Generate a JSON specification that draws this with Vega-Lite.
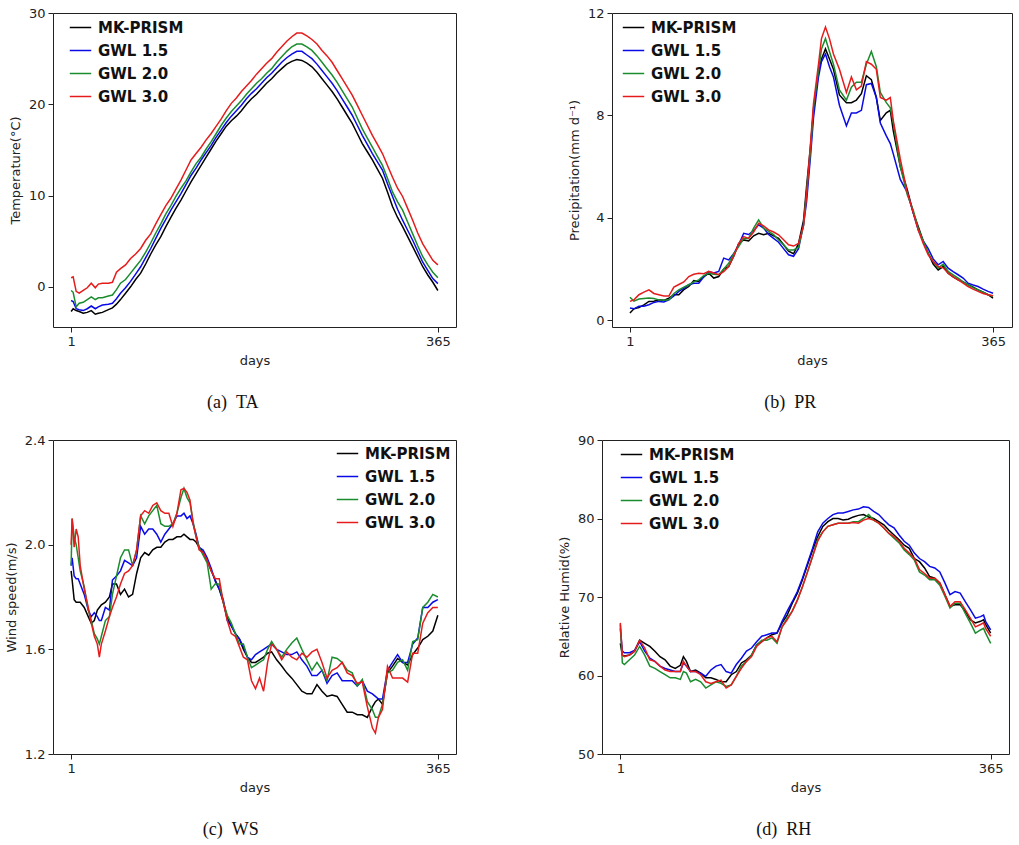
{
"$schema": "https://vega.github.io/schema/vega-lite/v6.json",
"background": "white",
"padding": {"left": 4, "top": 6, "right": 5, "bottom": 5},
"datasets": {
"ta": [
{"d":1,"m":-2.7,"a":-1.5,"b":-0.4,"c":1.0},
{"d":3,"m":-2.4,"a":-1.6,"b":-0.6,"c":1.1},
{"d":6,"m":-2.6,"a":-2.4,"b":-2.2,"c":-0.5},
{"d":9,"m":-2.7,"a":-2.5,"b":-1.8,"c":-0.7},
{"d":13,"m":-2.9,"a":-2.6,"b":-1.7,"c":-0.4},
{"d":17,"m":-2.8,"a":-2.4,"b":-1.4,"c":-0.1},
{"d":21,"m":-2.6,"a":-2.1,"b":-1.1,"c":0.4},
{"d":25,"m":-3.0,"a":-2.4,"b":-1.4,"c":-0.1},
{"d":28,"m":-2.9,"a":-2.2,"b":-1.2,"c":0.3},
{"d":32,"m":-2.8,"a":-2.0,"b":-1.2,"c":0.4},
{"d":38,"m":-2.5,"a":-1.9,"b":-1.0,"c":0.4},
{"d":42,"m":-2.3,"a":-1.8,"b":-0.9,"c":0.5},
{"d":46,"m":-1.9,"a":-1.3,"b":-0.3,"c":1.6},
{"d":50,"m":-1.4,"a":-0.7,"b":0.4,"c":2.0},
{"d":55,"m":-0.7,"a":-0.1,"b":0.8,"c":2.4},
{"d":60,"m":0.0,"a":0.6,"b":1.5,"c":3.1},
{"d":65,"m":0.8,"a":1.4,"b":2.2,"c":3.6},
{"d":70,"m":1.5,"a":2.2,"b":2.9,"c":4.2},
{"d":75,"m":2.5,"a":3.2,"b":3.8,"c":5.1},
{"d":80,"m":3.6,"a":4.2,"b":4.8,"c":5.8},
{"d":85,"m":4.6,"a":5.3,"b":5.9,"c":6.9},
{"d":90,"m":5.5,"a":6.4,"b":6.9,"c":7.9},
{"d":95,"m":6.6,"a":7.4,"b":8.0,"c":8.9},
{"d":100,"m":7.6,"a":8.4,"b":8.9,"c":9.7},
{"d":105,"m":8.6,"a":9.3,"b":9.9,"c":10.7},
{"d":110,"m":9.5,"a":10.2,"b":10.8,"c":11.7},
{"d":115,"m":10.5,"a":11.2,"b":11.6,"c":12.8},
{"d":120,"m":11.5,"a":12.2,"b":12.6,"c":13.9},
{"d":125,"m":12.4,"a":13.0,"b":13.5,"c":14.6},
{"d":130,"m":13.3,"a":13.9,"b":14.2,"c":15.3},
{"d":135,"m":14.2,"a":14.7,"b":15.1,"c":16.1},
{"d":140,"m":15.1,"a":15.5,"b":15.9,"c":16.8},
{"d":145,"m":16.0,"a":16.4,"b":16.8,"c":17.6},
{"d":150,"m":16.8,"a":17.2,"b":17.7,"c":18.4},
{"d":155,"m":17.6,"a":18.0,"b":18.5,"c":19.3},
{"d":160,"m":18.2,"a":18.7,"b":19.2,"c":20.1},
{"d":165,"m":18.7,"a":19.3,"b":19.8,"c":20.7},
{"d":170,"m":19.3,"a":19.9,"b":20.4,"c":21.4},
{"d":175,"m":20.0,"a":20.6,"b":21.1,"c":22.0},
{"d":180,"m":20.6,"a":21.2,"b":21.7,"c":22.6},
{"d":185,"m":21.1,"a":21.7,"b":22.3,"c":23.3},
{"d":190,"m":21.7,"a":22.3,"b":22.8,"c":23.9},
{"d":195,"m":22.3,"a":22.9,"b":23.4,"c":24.5},
{"d":200,"m":22.8,"a":23.4,"b":23.9,"c":25.0},
{"d":205,"m":23.4,"a":24.0,"b":24.6,"c":25.7},
{"d":210,"m":23.9,"a":24.6,"b":25.2,"c":26.3},
{"d":215,"m":24.4,"a":25.1,"b":25.8,"c":26.9},
{"d":220,"m":24.7,"a":25.5,"b":26.3,"c":27.4},
{"d":225,"m":24.9,"a":25.8,"b":26.6,"c":27.8},
{"d":230,"m":24.8,"a":25.8,"b":26.6,"c":27.8},
{"d":235,"m":24.5,"a":25.4,"b":26.3,"c":27.5},
{"d":240,"m":24.1,"a":25.0,"b":25.9,"c":27.1},
{"d":245,"m":23.5,"a":24.4,"b":25.3,"c":26.6},
{"d":250,"m":22.8,"a":23.7,"b":24.6,"c":25.9},
{"d":255,"m":22.1,"a":23.0,"b":23.9,"c":25.3},
{"d":260,"m":21.4,"a":22.3,"b":23.2,"c":24.6},
{"d":265,"m":20.6,"a":21.5,"b":22.4,"c":23.7},
{"d":270,"m":19.7,"a":20.6,"b":21.5,"c":22.8},
{"d":275,"m":18.8,"a":19.7,"b":20.6,"c":21.9},
{"d":280,"m":17.9,"a":18.8,"b":19.7,"c":21.0},
{"d":285,"m":16.8,"a":17.7,"b":18.5,"c":19.9},
{"d":290,"m":15.7,"a":16.6,"b":17.3,"c":18.8},
{"d":295,"m":14.8,"a":15.6,"b":16.3,"c":17.7},
{"d":300,"m":13.9,"a":14.6,"b":15.3,"c":16.6},
{"d":305,"m":12.9,"a":13.7,"b":14.3,"c":15.6},
{"d":310,"m":11.9,"a":12.8,"b":13.3,"c":14.6},
{"d":315,"m":10.4,"a":11.3,"b":11.9,"c":13.3},
{"d":320,"m":8.8,"a":9.9,"b":10.4,"c":12.0},
{"d":325,"m":7.6,"a":8.5,"b":9.3,"c":10.8},
{"d":330,"m":6.6,"a":7.3,"b":8.4,"c":9.9},
{"d":335,"m":5.5,"a":6.2,"b":7.1,"c":8.6},
{"d":340,"m":4.4,"a":5.1,"b":5.8,"c":7.3},
{"d":345,"m":3.3,"a":3.9,"b":4.5,"c":5.9},
{"d":350,"m":2.2,"a":2.7,"b":3.3,"c":4.7},
{"d":355,"m":1.3,"a":1.8,"b":2.4,"c":3.8},
{"d":360,"m":0.5,"a":0.9,"b":1.6,"c":2.9},
{"d":365,"m":-0.4,"a":0.35,"b":1.0,"c":2.4}
],
"pr": [
{"d":1,"m":0.29,"a":0.48,"b":0.9,"c":0.74},
{"d":5,"m":0.45,"a":0.45,"b":0.75,"c":0.8},
{"d":10,"m":0.5,"a":0.55,"b":0.83,"c":1.0},
{"d":15,"m":0.6,"a":0.55,"b":0.85,"c":1.1},
{"d":20,"m":0.74,"a":0.61,"b":0.87,"c":1.19},
{"d":25,"m":0.75,"a":0.7,"b":0.85,"c":1.05},
{"d":30,"m":0.8,"a":0.74,"b":0.8,"c":1.0},
{"d":35,"m":0.78,"a":0.72,"b":0.78,"c":0.95},
{"d":40,"m":0.87,"a":0.8,"b":0.8,"c":0.95},
{"d":45,"m":1.0,"a":0.95,"b":1.05,"c":1.3},
{"d":50,"m":1.0,"a":1.13,"b":1.19,"c":1.4},
{"d":55,"m":1.2,"a":1.25,"b":1.3,"c":1.5},
{"d":60,"m":1.32,"a":1.39,"b":1.39,"c":1.71},
{"d":65,"m":1.55,"a":1.45,"b":1.5,"c":1.8},
{"d":70,"m":1.52,"a":1.45,"b":1.58,"c":1.84},
{"d":75,"m":1.7,"a":1.7,"b":1.75,"c":1.82},
{"d":80,"m":1.84,"a":1.9,"b":1.84,"c":1.91},
{"d":85,"m":1.65,"a":1.85,"b":1.8,"c":1.85},
{"d":90,"m":1.71,"a":1.91,"b":1.78,"c":1.78},
{"d":95,"m":2.0,"a":2.43,"b":2.0,"c":1.9},
{"d":100,"m":2.1,"a":2.36,"b":2.23,"c":2.1},
{"d":105,"m":2.5,"a":2.6,"b":2.6,"c":2.5},
{"d":110,"m":3.0,"a":2.95,"b":2.88,"c":3.0},
{"d":115,"m":3.14,"a":3.4,"b":3.2,"c":3.27},
{"d":120,"m":3.1,"a":3.35,"b":3.2,"c":3.2},
{"d":125,"m":3.3,"a":3.5,"b":3.6,"c":3.45},
{"d":130,"m":3.4,"a":3.73,"b":3.92,"c":3.79},
{"d":135,"m":3.34,"a":3.6,"b":3.6,"c":3.69},
{"d":140,"m":3.4,"a":3.35,"b":3.47,"c":3.53},
{"d":145,"m":3.3,"a":3.2,"b":3.35,"c":3.45},
{"d":150,"m":3.2,"a":3.05,"b":3.14,"c":3.34},
{"d":155,"m":2.95,"a":2.8,"b":2.95,"c":3.15},
{"d":160,"m":2.7,"a":2.56,"b":2.75,"c":2.95},
{"d":165,"m":2.6,"a":2.5,"b":2.75,"c":2.9},
{"d":170,"m":3.0,"a":2.8,"b":2.85,"c":3.0},
{"d":175,"m":3.9,"a":3.75,"b":3.7,"c":3.7},
{"d":178,"m":5.2,"a":4.6,"b":5.0,"c":4.85},
{"d":182,"m":6.8,"a":6.4,"b":6.6,"c":6.9},
{"d":185,"m":8.2,"a":7.9,"b":8.3,"c":8.45},
{"d":190,"m":9.7,"a":9.5,"b":9.75,"c":10.0},
{"d":193,"m":10.2,"a":10.1,"b":10.6,"c":11.0},
{"d":197,"m":10.6,"a":10.4,"b":11.0,"c":11.45},
{"d":201,"m":10.2,"a":9.9,"b":10.5,"c":11.0},
{"d":205,"m":9.8,"a":9.5,"b":10.0,"c":10.4},
{"d":211,"m":8.8,"a":8.4,"b":9.0,"c":9.8},
{"d":218,"m":8.5,"a":7.6,"b":8.6,"c":8.9},
{"d":223,"m":8.5,"a":8.1,"b":9.1,"c":9.5},
{"d":228,"m":8.6,"a":8.1,"b":9.3,"c":9.0},
{"d":233,"m":8.85,"a":8.2,"b":9.3,"c":9.15},
{"d":238,"m":9.55,"a":9.2,"b":10.0,"c":10.1},
{"d":243,"m":9.4,"a":9.25,"b":10.5,"c":10.0},
{"d":248,"m":8.7,"a":8.7,"b":9.9,"c":9.8},
{"d":252,"m":7.8,"a":7.7,"b":8.9,"c":8.7},
{"d":258,"m":8.1,"a":7.2,"b":8.5,"c":8.6},
{"d":262,"m":8.2,"a":6.9,"b":8.3,"c":8.7},
{"d":265,"m":7.4,"a":6.5,"b":7.7,"c":7.8},
{"d":272,"m":6.0,"a":5.5,"b":6.0,"c":6.3},
{"d":279,"m":5.1,"a":5.0,"b":4.9,"c":5.0},
{"d":285,"m":4.2,"a":4.2,"b":4.3,"c":4.2},
{"d":290,"m":3.66,"a":3.53,"b":3.6,"c":3.53},
{"d":295,"m":3.1,"a":3.1,"b":3.1,"c":3.0},
{"d":300,"m":2.62,"a":2.8,"b":2.62,"c":2.56},
{"d":305,"m":2.2,"a":2.4,"b":2.3,"c":2.3},
{"d":310,"m":1.97,"a":2.17,"b":2.04,"c":2.1},
{"d":315,"m":2.1,"a":2.3,"b":2.2,"c":2.05},
{"d":320,"m":1.84,"a":2.04,"b":1.91,"c":1.84},
{"d":325,"m":1.7,"a":1.9,"b":1.78,"c":1.7},
{"d":330,"m":1.58,"a":1.78,"b":1.65,"c":1.58},
{"d":335,"m":1.5,"a":1.65,"b":1.5,"c":1.45},
{"d":340,"m":1.39,"a":1.45,"b":1.39,"c":1.32},
{"d":345,"m":1.3,"a":1.38,"b":1.28,"c":1.22},
{"d":350,"m":1.19,"a":1.32,"b":1.19,"c":1.13},
{"d":355,"m":1.1,"a":1.22,"b":1.1,"c":1.05},
{"d":360,"m":1.0,"a":1.13,"b":1.0,"c":1.0},
{"d":365,"m":0.87,"a":1.06,"b":0.94,"c":0.96}
],
"ws": [
{"d":1,"m":1.9,"a":1.92,"b":1.92,"c":2.0},
{"d":2,"m":1.865,"a":1.95,"b":2.1,"c":2.1},
{"d":4,"m":1.79,"a":1.88,"b":2.03,"c":1.99},
{"d":6,"m":1.78,"a":1.87,"b":2.0,"c":2.06},
{"d":8,"m":1.78,"a":1.87,"b":1.95,"c":2.03},
{"d":10,"m":1.78,"a":1.85,"b":1.9,"c":1.92},
{"d":14,"m":1.76,"a":1.81,"b":1.84,"c":1.83},
{"d":18,"m":1.725,"a":1.75,"b":1.75,"c":1.76},
{"d":21,"m":1.7,"a":1.725,"b":1.71,"c":1.7},
{"d":24,"m":1.71,"a":1.74,"b":1.66,"c":1.65},
{"d":27,"m":1.75,"a":1.725,"b":1.64,"c":1.62},
{"d":29,"m":1.76,"a":1.71,"b":1.62,"c":1.57},
{"d":31,"m":1.77,"a":1.71,"b":1.65,"c":1.62},
{"d":35,"m":1.78,"a":1.76,"b":1.71,"c":1.67},
{"d":39,"m":1.8,"a":1.75,"b":1.725,"c":1.725},
{"d":42,"m":1.85,"a":1.865,"b":1.81,"c":1.76},
{"d":46,"m":1.85,"a":1.88,"b":1.88,"c":1.8},
{"d":50,"m":1.81,"a":1.9,"b":1.95,"c":1.85},
{"d":54,"m":1.83,"a":1.94,"b":1.98,"c":1.89},
{"d":58,"m":1.8,"a":1.93,"b":1.98,"c":1.9},
{"d":62,"m":1.81,"a":1.92,"b":1.92,"c":1.92},
{"d":66,"m":1.89,"a":1.95,"b":1.98,"c":1.98},
{"d":70,"m":1.95,"a":2.07,"b":2.11,"c":2.11},
{"d":74,"m":1.97,"a":2.04,"b":2.08,"c":2.13},
{"d":78,"m":1.96,"a":2.06,"b":2.11,"c":2.12},
{"d":82,"m":1.98,"a":2.06,"b":2.13,"c":2.15},
{"d":86,"m":1.99,"a":2.04,"b":2.15,"c":2.16},
{"d":90,"m":1.99,"a":2.01,"b":2.08,"c":2.13},
{"d":94,"m":2.01,"a":2.04,"b":2.07,"c":2.12},
{"d":98,"m":2.02,"a":2.06,"b":2.07,"c":2.12},
{"d":102,"m":2.02,"a":2.08,"b":2.08,"c":2.07},
{"d":106,"m":2.03,"a":2.11,"b":2.12,"c":2.12},
{"d":110,"m":2.03,"a":2.11,"b":2.18,"c":2.21},
{"d":113,"m":2.04,"a":2.12,"b":2.215,"c":2.215},
{"d":116,"m":2.03,"a":2.1,"b":2.18,"c":2.2},
{"d":119,"m":2.02,"a":2.11,"b":2.16,"c":2.17},
{"d":122,"m":2.02,"a":2.08,"b":2.09,"c":2.08},
{"d":125,"m":2.01,"a":2.04,"b":2.03,"c":2.03},
{"d":128,"m":1.99,"a":1.99,"b":1.99,"c":1.98},
{"d":132,"m":1.97,"a":1.98,"b":1.96,"c":1.97},
{"d":136,"m":1.94,"a":1.95,"b":1.93,"c":1.94},
{"d":140,"m":1.9,"a":1.91,"b":1.83,"c":1.9},
{"d":144,"m":1.865,"a":1.86,"b":1.85,"c":1.87},
{"d":148,"m":1.83,"a":1.83,"b":1.85,"c":1.87},
{"d":152,"m":1.78,"a":1.79,"b":1.78,"c":1.78},
{"d":156,"m":1.72,"a":1.71,"b":1.73,"c":1.71},
{"d":160,"m":1.69,"a":1.69,"b":1.7,"c":1.66},
{"d":164,"m":1.66,"a":1.66,"b":1.66,"c":1.65},
{"d":168,"m":1.64,"a":1.64,"b":1.62,"c":1.61},
{"d":172,"m":1.6,"a":1.61,"b":1.62,"c":1.57},
{"d":176,"m":1.57,"a":1.57,"b":1.57,"c":1.56},
{"d":180,"m":1.55,"a":1.56,"b":1.53,"c":1.48},
{"d":184,"m":1.55,"a":1.58,"b":1.54,"c":1.45},
{"d":188,"m":1.56,"a":1.59,"b":1.55,"c":1.49},
{"d":192,"m":1.57,"a":1.6,"b":1.56,"c":1.44},
{"d":196,"m":1.585,"a":1.61,"b":1.6,"c":1.55},
{"d":200,"m":1.59,"a":1.62,"b":1.63,"c":1.62},
{"d":205,"m":1.56,"a":1.6,"b":1.6,"c":1.6},
{"d":210,"m":1.536,"a":1.59,"b":1.57,"c":1.56},
{"d":215,"m":1.51,"a":1.58,"b":1.6,"c":1.59},
{"d":220,"m":1.49,"a":1.58,"b":1.624,"c":1.57},
{"d":225,"m":1.465,"a":1.59,"b":1.643,"c":1.56},
{"d":230,"m":1.44,"a":1.56,"b":1.6,"c":1.585},
{"d":235,"m":1.43,"a":1.536,"b":1.56,"c":1.57},
{"d":240,"m":1.43,"a":1.5,"b":1.52,"c":1.59},
{"d":245,"m":1.465,"a":1.5,"b":1.55,"c":1.6},
{"d":250,"m":1.44,"a":1.52,"b":1.52,"c":1.55},
{"d":255,"m":1.42,"a":1.47,"b":1.48,"c":1.49},
{"d":260,"m":1.425,"a":1.5,"b":1.57,"c":1.52},
{"d":265,"m":1.42,"a":1.51,"b":1.565,"c":1.53},
{"d":270,"m":1.39,"a":1.48,"b":1.55,"c":1.55},
{"d":275,"m":1.36,"a":1.48,"b":1.52,"c":1.51},
{"d":280,"m":1.36,"a":1.48,"b":1.51,"c":1.5},
{"d":285,"m":1.35,"a":1.46,"b":1.46,"c":1.47},
{"d":290,"m":1.35,"a":1.48,"b":1.485,"c":1.475},
{"d":295,"m":1.34,"a":1.44,"b":1.4,"c":1.38},
{"d":300,"m":1.38,"a":1.43,"b":1.37,"c":1.3},
{"d":303,"m":1.4,"a":1.42,"b":1.34,"c":1.28},
{"d":306,"m":1.41,"a":1.41,"b":1.34,"c":1.34},
{"d":310,"m":1.39,"a":1.41,"b":1.39,"c":1.37},
{"d":315,"m":1.51,"a":1.52,"b":1.51,"c":1.535},
{"d":320,"m":1.536,"a":1.55,"b":1.52,"c":1.49},
{"d":325,"m":1.565,"a":1.58,"b":1.55,"c":1.49},
{"d":330,"m":1.55,"a":1.55,"b":1.56,"c":1.49},
{"d":335,"m":1.54,"a":1.55,"b":1.52,"c":1.475},
{"d":340,"m":1.58,"a":1.62,"b":1.63,"c":1.585},
{"d":345,"m":1.605,"a":1.643,"b":1.637,"c":1.585},
{"d":350,"m":1.637,"a":1.76,"b":1.76,"c":1.7},
{"d":355,"m":1.65,"a":1.76,"b":1.78,"c":1.74},
{"d":360,"m":1.67,"a":1.78,"b":1.81,"c":1.76},
{"d":365,"m":1.73,"a":1.79,"b":1.8,"c":1.76}
],
"rh": [
{"d":1,"m":64.1,"a":66.0,"b":66.5,"c":66.7},
{"d":3,"m":62.6,"a":63.1,"b":61.6,"c":62.6},
{"d":5,"m":62.5,"a":62.9,"b":61.4,"c":62.4},
{"d":10,"m":62.6,"a":62.9,"b":62.0,"c":62.6},
{"d":15,"m":63.1,"a":63.2,"b":62.6,"c":63.1},
{"d":20,"m":64.5,"a":64.3,"b":63.7,"c":64.5},
{"d":25,"m":64.1,"a":63.1,"b":62.6,"c":63.5},
{"d":30,"m":63.7,"a":62.2,"b":61.2,"c":62.0},
{"d":35,"m":63.1,"a":61.8,"b":60.9,"c":61.8},
{"d":40,"m":62.4,"a":61.2,"b":60.5,"c":61.2},
{"d":45,"m":62.0,"a":60.9,"b":60.1,"c":60.7},
{"d":50,"m":61.2,"a":60.7,"b":59.7,"c":60.5},
{"d":55,"m":60.9,"a":60.5,"b":59.7,"c":60.5},
{"d":60,"m":61.3,"a":60.5,"b":59.5,"c":60.5},
{"d":63,"m":62.4,"a":61.6,"b":60.5,"c":61.8},
{"d":66,"m":61.8,"a":61.2,"b":60.3,"c":61.2},
{"d":70,"m":60.5,"a":60.5,"b":59.2,"c":60.5},
{"d":75,"m":60.7,"a":60.5,"b":59.5,"c":60.5},
{"d":80,"m":60.3,"a":60.3,"b":59.2,"c":60.1},
{"d":85,"m":59.7,"a":59.9,"b":58.4,"c":59.2},
{"d":90,"m":59.7,"a":60.7,"b":58.8,"c":59.0},
{"d":95,"m":59.5,"a":61.2,"b":59.2,"c":59.2},
{"d":100,"m":59.2,"a":61.4,"b":59.0,"c":59.4},
{"d":105,"m":59.2,"a":60.5,"b":58.6,"c":58.4},
{"d":110,"m":60.1,"a":60.3,"b":58.8,"c":58.8},
{"d":115,"m":60.5,"a":61.4,"b":59.9,"c":59.9},
{"d":120,"m":61.6,"a":62.2,"b":61.2,"c":60.9},
{"d":125,"m":62.0,"a":63.1,"b":61.8,"c":61.8},
{"d":130,"m":62.6,"a":63.5,"b":62.6,"c":62.4},
{"d":135,"m":63.9,"a":64.3,"b":63.9,"c":63.7},
{"d":140,"m":64.3,"a":65.0,"b":64.5,"c":64.3},
{"d":145,"m":64.8,"a":65.2,"b":64.5,"c":64.8},
{"d":150,"m":65.2,"a":65.4,"b":64.8,"c":65.0},
{"d":155,"m":65.4,"a":65.4,"b":64.1,"c":64.3},
{"d":160,"m":66.7,"a":66.9,"b":66.2,"c":66.2},
{"d":165,"m":67.7,"a":68.2,"b":67.3,"c":67.1},
{"d":170,"m":69.2,"a":69.4,"b":68.2,"c":68.2},
{"d":175,"m":70.5,"a":70.7,"b":69.6,"c":69.6},
{"d":180,"m":72.2,"a":72.4,"b":71.3,"c":71.3},
{"d":185,"m":74.1,"a":74.3,"b":73.2,"c":73.2},
{"d":190,"m":76.0,"a":76.2,"b":75.2,"c":75.2},
{"d":195,"m":77.7,"a":78.3,"b":77.3,"c":77.1},
{"d":200,"m":79.0,"a":79.4,"b":78.3,"c":78.3},
{"d":205,"m":79.6,"a":80.0,"b":79.0,"c":79.0},
{"d":210,"m":80.0,"a":80.5,"b":79.2,"c":79.2},
{"d":215,"m":80.0,"a":80.7,"b":79.4,"c":79.4},
{"d":220,"m":79.8,"a":80.7,"b":79.4,"c":79.4},
{"d":225,"m":79.9,"a":80.9,"b":79.4,"c":79.4},
{"d":230,"m":80.2,"a":81.1,"b":79.6,"c":79.5},
{"d":235,"m":80.4,"a":81.2,"b":79.6,"c":79.4},
{"d":240,"m":80.5,"a":81.5,"b":80.0,"c":79.8},
{"d":245,"m":80.2,"a":81.4,"b":80.5,"c":80.0},
{"d":250,"m":80.0,"a":80.9,"b":79.8,"c":79.8},
{"d":255,"m":79.6,"a":80.5,"b":79.4,"c":79.4},
{"d":260,"m":79.2,"a":79.8,"b":78.8,"c":78.8},
{"d":265,"m":78.5,"a":79.2,"b":78.1,"c":78.1},
{"d":270,"m":77.9,"a":78.8,"b":77.5,"c":77.7},
{"d":275,"m":77.3,"a":77.9,"b":76.9,"c":77.1},
{"d":280,"m":76.6,"a":77.1,"b":76.0,"c":76.2},
{"d":285,"m":76.2,"a":76.6,"b":75.4,"c":75.6},
{"d":290,"m":74.9,"a":75.6,"b":74.7,"c":74.9},
{"d":295,"m":74.5,"a":74.9,"b":73.2,"c":73.5},
{"d":300,"m":73.7,"a":74.5,"b":72.8,"c":73.0},
{"d":305,"m":72.6,"a":73.9,"b":72.2,"c":72.4},
{"d":310,"m":72.4,"a":73.7,"b":72.2,"c":72.4},
{"d":315,"m":71.8,"a":73.2,"b":71.5,"c":71.8},
{"d":320,"m":70.3,"a":71.8,"b":70.1,"c":70.3},
{"d":325,"m":68.8,"a":70.3,"b":68.6,"c":68.8},
{"d":330,"m":69.0,"a":70.7,"b":69.2,"c":69.4},
{"d":335,"m":69.0,"a":70.5,"b":69.2,"c":69.4},
{"d":340,"m":68.2,"a":69.4,"b":67.9,"c":68.4},
{"d":345,"m":67.1,"a":68.4,"b":66.7,"c":67.3},
{"d":350,"m":66.7,"a":67.3,"b":65.4,"c":66.2},
{"d":355,"m":66.9,"a":67.5,"b":65.8,"c":66.5},
{"d":358,"m":67.1,"a":67.7,"b":66.0,"c":66.7},
{"d":360,"m":66.5,"a":66.9,"b":65.4,"c":66.0},
{"d":365,"m":65.4,"a":65.8,"b":64.1,"c":65.0}
]
},
"config": {
"view": {"stroke": "#222222", "strokeWidth": 1},
"font": "DejaVu Sans",
"axis": {"grid": false, "domain": false, "ticks": true, "tickColor": "#222222", "tickSize": 5, "labelFont": "DejaVu Sans", "labelFontSize": 13, "labelColor": "#222222", "labelPadding": 3, "titleFont": "DejaVu Sans", "titleFontSize": 13, "titleFontWeight": "normal", "titleColor": "#222222", "titlePadding": 6},
"legend": {"symbolType": "stroke", "symbolSize": 460, "symbolStrokeWidth": 2.5, "labelFont": "DejaVu Sans", "labelFontSize": 15, "labelFontWeight": "bold", "labelColor": "#111111", "labelOffset": 6, "rowPadding": 3, "padding": 0, "title": null},
"title": {"font": "Liberation Serif", "fontSize": 18, "fontWeight": "normal", "color": "#111111", "orient": "bottom", "anchor": "middle", "frame": "bounds", "offset": 27},
"line": {"strokeWidth": 1.5}
},
"resolve": {"scale": {"color": "independent"}, "legend": {"color": "independent"}},
"vconcat": [
{"resolve": {"scale": {"color": "independent"}, "legend": {"color": "independent"}},
 "hconcat": [
{"data": {"name": "ta"}, "width": 403, "height": 314, "title": {"text": "(a)\u00a0\u00a0TA"},
 "transform": [{"fold": ["m","a","b","c"], "as": ["s","v"]}],
 "mark": {"type": "line", "strokeWidth": 1.5},
 "encoding": {
  "x": {"field": "d", "type": "quantitative", "scale": {"domain": [-17, 383], "nice": false, "zero": false}, "axis": {"values": [1, 365], "title": "days"}},
  "y": {"field": "v", "type": "quantitative", "scale": {"domain": [-4.4, 30], "nice": false, "zero": false}, "axis": {"values": [0, 10, 20, 30], "title": "Temperature(°C)"}},
  "color": {"field": "s", "type": "nominal", "scale": {"domain": ["m","a","b","c"], "range": ["#000000","#0a0ae6","#1a8c2e","#e51c1c"]}, "legend": {"orient": "none", "legendX": 16, "legendY": 3, "labelExpr": "datum.label == 'm' ? 'MK-PRISM' : datum.label == 'a' ? 'GWL 1.5' : datum.label == 'b' ? 'GWL 2.0' : 'GWL 3.0'"}}
 }},
{"data": {"name": "pr"}, "width": 400, "height": 314, "title": {"text": "(b)\u00a0\u00a0PR"},
 "transform": [{"fold": ["m","a","b","c"], "as": ["s","v"]}],
 "mark": {"type": "line", "strokeWidth": 1.5},
 "encoding": {
  "x": {"field": "d", "type": "quantitative", "scale": {"domain": [-17, 384], "nice": false, "zero": false}, "axis": {"values": [1, 365], "title": "days"}},
  "y": {"field": "v", "type": "quantitative", "scale": {"domain": [-0.26, 12], "nice": false, "zero": false}, "axis": {"values": [0, 4, 8, 12], "title": "Precipitation(mm d⁻¹)"}},
  "color": {"field": "s", "type": "nominal", "scale": {"domain": ["m","a","b","c"], "range": ["#000000","#0a0ae6","#1a8c2e","#e51c1c"]}, "legend": {"orient": "none", "legendX": 10, "legendY": 3, "labelExpr": "datum.label == 'm' ? 'MK-PRISM' : datum.label == 'a' ? 'GWL 1.5' : datum.label == 'b' ? 'GWL 2.0' : 'GWL 3.0'"}}
 }}
], "spacing": 110},
{"resolve": {"scale": {"color": "independent"}, "legend": {"color": "independent"}},
 "hconcat": [
{"data": {"name": "ws"}, "width": 403, "height": 314, "title": {"text": "(c)\u00a0\u00a0WS"},
 "transform": [{"fold": ["m","a","b","c"], "as": ["s","v"]}],
 "mark": {"type": "line", "strokeWidth": 1.5},
 "encoding": {
  "x": {"field": "d", "type": "quantitative", "scale": {"domain": [-17, 383], "nice": false, "zero": false}, "axis": {"values": [1, 365], "title": "days"}},
  "y": {"field": "v", "type": "quantitative", "scale": {"domain": [1.2, 2.4], "nice": false, "zero": false}, "axis": {"values": [1.2, 1.6, 2.0, 2.4], "format": ".1f", "title": "Wind speed(m/s)"}},
  "color": {"field": "s", "type": "nominal", "scale": {"domain": ["m","a","b","c"], "range": ["#000000","#0a0ae6","#1a8c2e","#e51c1c"]}, "legend": {"orient": "none", "legendX": 283, "legendY": 2, "labelExpr": "datum.label == 'm' ? 'MK-PRISM' : datum.label == 'a' ? 'GWL 1.5' : datum.label == 'b' ? 'GWL 2.0' : 'GWL 3.0'"}}
 }},
{"data": {"name": "rh"}, "width": 407, "height": 314, "title": {"text": "(d)\u00a0\u00a0RH"},
 "transform": [{"fold": ["m","a","b","c"], "as": ["s","v"]}],
 "mark": {"type": "line", "strokeWidth": 1.5},
 "encoding": {
  "x": {"field": "d", "type": "quantitative", "scale": {"domain": [-17, 383], "nice": false, "zero": false}, "axis": {"values": [1, 365], "title": "days"}},
  "y": {"field": "v", "type": "quantitative", "scale": {"domain": [50, 90], "nice": false, "zero": false}, "axis": {"values": [50, 60, 70, 80, 90], "title": "Relative Humid(%)"}},
  "color": {"field": "s", "type": "nominal", "scale": {"domain": ["m","a","b","c"], "range": ["#000000","#0a0ae6","#1a8c2e","#e51c1c"]}, "legend": {"orient": "none", "legendX": 18, "legendY": 3, "labelExpr": "datum.label == 'm' ? 'MK-PRISM' : datum.label == 'a' ? 'GWL 1.5' : datum.label == 'b' ? 'GWL 2.0' : 'GWL 3.0'"}}
 }}
], "spacing": 100}
],
"spacing": 20
}
